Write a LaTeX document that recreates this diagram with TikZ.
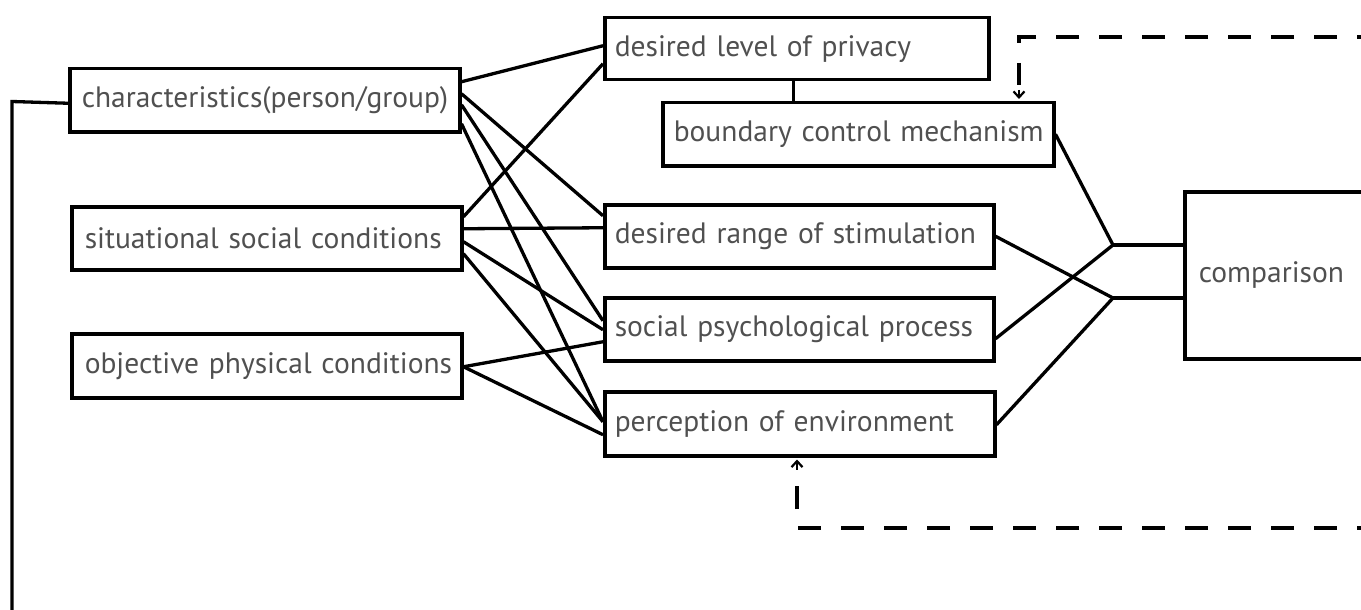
\documentclass[tikz,border=0pt]{standalone}
\usepackage{fontspec}
\setmainfont{PT Sans}
\usetikzlibrary{arrows.meta}
\definecolor{txtgray}{HTML}{505050}
\begin{document}
\begin{tikzpicture}[x=1pt,y=-1pt,
  box/.style={draw=black, line width=3.5pt, anchor=north west, align=left,
    font=\fontsize{29.5}{33}\selectfont, text=txtgray, inner ysep=0pt},
  link/.style={line width=3.3pt, black},
  fb/.style={line width=3.3pt, black, dash pattern=on 23pt off 20pt},
  fbtip/.style={line width=2.6pt, black,
    -{Straight Barb[length=6pt,width=11pt,line width=2.2pt]}}]
\useasboundingbox (0,0) rectangle (1361,610);
\clip (0,0) rectangle (1361,610);
% left column
\node[box, inner xsep=12pt, text width=366pt, minimum height=63pt] (C) at (68,67) {\mbox{characteristics(person/group)}};
\node[box, inner xsep=13pt, text width=364pt, minimum height=63pt] (S) at (70,205) {\mbox{situational social conditions}};
\node[box, inner xsep=13pt, text width=364pt, minimum height=64pt] (O) at (70,332) {\mbox{objective physical conditions}};
% middle column
\node[box, inner xsep=10pt, text width=364pt, minimum height=62pt] (P) at (603,16) {\mbox{desired level of privacy}};
\node[box, inner xsep=11pt, text width=369pt, minimum height=63pt] (B) at (661,101) {\mbox{boundary control mechanism}};
\node[box, inner xsep=10pt, text width=369pt, minimum height=63pt] (R) at (603,203) {\mbox{desired range of stimulation}};
\node[box, inner xsep=10pt, text width=369pt, minimum height=63pt] (SP) at (603,296) {\mbox{social psychological process}};
\node[box, inner xsep=10pt, text width=370pt, minimum height=64pt] (PE) at (603,390) {\mbox{perception of environment}};
% comparison
\node[box, inner xsep=14pt, text width=270pt, minimum height=167pt] (Cmp) at (1183,190) {\mbox{comparison}};
% links from left column
\draw[link] ([yshift=18.5pt]C.east) -- ([yshift=3pt]P.west);
\draw[link] ([yshift=6.5pt]C.east) -- ([yshift=20.5pt]R.west);
\draw[link] ([yshift=-4.5pt]C.east) -- ([yshift=8.5pt]SP.west);
\draw[link] ([yshift=-23.5pt]C.east) -- ([yshift=2pt]PE.west);
\draw[link] ([yshift=21.5pt]S.east) -- ([yshift=-15pt]P.west);
\draw[link] ([yshift=9.5pt]S.east) -- ([yshift=8.5pt]R.west);
\draw[link] ([yshift=-3.5pt]S.east) -- ([yshift=-0.5pt]SP.west);
\draw[link] ([yshift=-15.5pt]S.east) -- ([yshift=2pt]PE.west);
\draw[link] ([yshift=-1pt]O.east) -- ([yshift=-12.5pt]SP.west);
\draw[link] ([yshift=-1pt]O.east) -- ([yshift=-11pt]PE.west);
% privacy to boundary
\draw[link] ([xshift=-3pt]P.south) -- ([xshift=-3pt]P.south |- B.north);
% to comparison
\coordinate (J1) at (1113,245);
\coordinate (J2) at (1113,298);
\draw[link] (B.east) -- (J1);
\draw[link] ([yshift=-9.5pt]SP.east) -- (J1);
\draw[link] (R.east) -- (J2);
\draw[link] ([yshift=-1pt]PE.east) -- (J2);
\draw[link] (J1) -- (Cmp.west |- J1);
\draw[link] (J2) -- (Cmp.west |- J2);
% feedback (dashed)
\coordinate (TopEnd) at (1380,37);
\coordinate (TopCorner) at (1019,37);
\draw[fb] (TopEnd) -- (TopCorner) -- ([yshift=16pt]TopCorner |- B.north);
\draw[fbtip] ([yshift=11pt]TopCorner |- B.north) -- ([yshift=2pt]TopCorner |- B.north);
\coordinate (BotEnd) at (1380,528);
\coordinate (BotCorner) at (797,528);
\draw[fb] (BotEnd) -- (BotCorner) -- ([yshift=-18pt]BotCorner |- PE.south);
\draw[fbtip] ([yshift=-12pt]BotCorner |- PE.south) -- ([yshift=-2pt]BotCorner |- PE.south);
% left return line
\coordinate (LeftCorner) at (12,101.5);
\coordinate (LeftEnd) at (12,620);
\draw[link] ([yshift=-3pt]C.west) -- (LeftCorner) -- (LeftEnd);
\end{tikzpicture}
\end{document}
